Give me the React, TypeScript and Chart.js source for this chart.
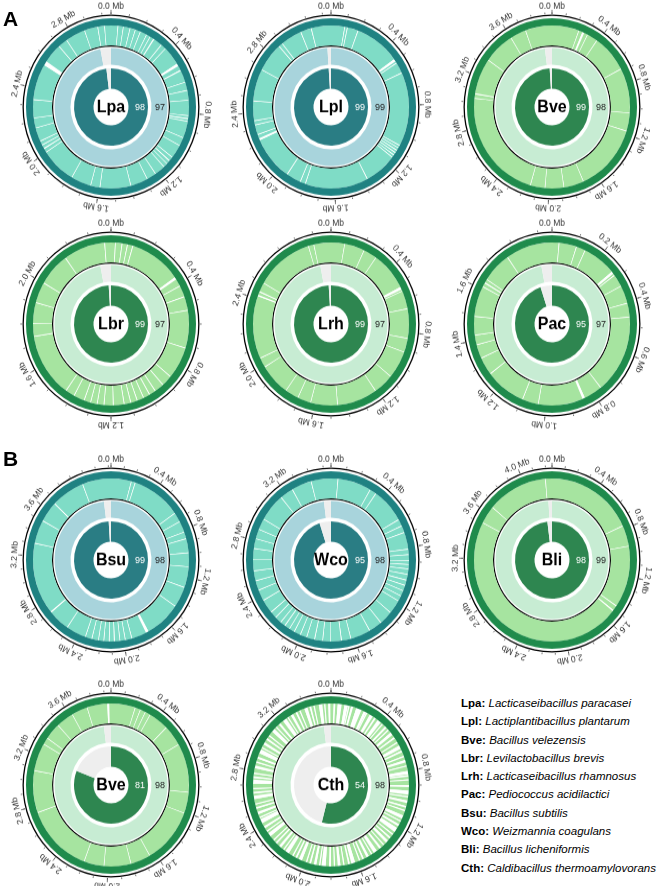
import { useEffect, useRef } from "react";
import { Chart, registerables } from "chart.js";

Chart.register(...registerables);

// ---------------- data ----------------
const genomeCodes = ["Lpa", "Lpl", "Bve", "Lbr", "Lrh", "Pac", "Bsu", "Wco", "Bli", "Bve", "Cth"];
const genomePalette = ["teal", "teal", "green", "green", "green", "green", "teal", "teal", "green", "green", "green"];
const genomeLengthsMb = [3.05, 3.25, 3.95, 2.4, 3.0, 1.95, 4.22, 3.55, 4.25, 3.95, 3.6];
const coreIdentity = [98, 99, 99, 99, 99, 95, 99, 95, 98, 81, 54];
const ringIdentity = [97, 99, 98, 97, 97, 97, 98, 98, 99, 98, 98];

const ticks04to28 = [0.0, 0.4, 0.8, 1.2, 1.6, 2.0, 2.4, 2.8];
const ticks04to36 = [0.0, 0.4, 0.8, 1.2, 1.6, 2.0, 2.4, 2.8, 3.2, 3.6];
const ticks04to20 = [0.0, 0.4, 0.8, 1.2, 1.6, 2.0];
const ticks04to24 = [0.0, 0.4, 0.8, 1.2, 1.6, 2.0, 2.4];
const ticks02to16 = [0.0, 0.2, 0.4, 0.6, 0.8, 1.0, 1.2, 1.4, 1.6];
const ticks04to32 = [0.0, 0.4, 0.8, 1.2, 1.6, 2.0, 2.4, 2.8, 3.2];
const ticks04to40 = [0.0, 0.4, 0.8, 1.2, 1.6, 2.0, 2.4, 2.8, 3.2, 3.6, 4.0];
const tickLabelsMb = [
  ticks04to28, ticks04to28, ticks04to36, ticks04to20, ticks04to24, ticks02to16,
  ticks04to36, ticks04to32, ticks04to40, ticks04to36, ticks04to32,
];
const minorTickStepMb = [0.1, 0.1, 0.1, 0.1, 0.1, 0.1, 0.1, 0.1, 0.1, 0.1, 0.1];

// gaps in the outer ring: [position Mb, width kb]
const gapsLpa = [[0.042,4],[0.076,4],[0.119,4],[0.153,4],[0.186,4],[0.229,4],[0.254,4],[0.280,6],[0.339,4],[0.373,4],[0.491,16],[0.534,6],[0.610,4],[0.661,4],[0.720,4],[0.813,4],[0.830,6],[0.847,4],[0.949,4],[1.000,4],[1.084,4],[1.110,6],[1.135,4],[1.161,4],[1.228,4],[1.288,4],[1.398,4],[1.593,4],[1.652,4],[1.779,4],[2.000,4],[2.025,6],[2.050,4],[2.076,4],[2.160,4],[2.220,4],[2.330,4],[2.550,26],[2.694,4],[2.754,4],[2.880,4],[2.965,4],[3.008,4]];
const gapsLpl = [[0.090,5],[0.108,5],[0.181,5],[0.488,16],[0.515,5],[0.587,5],[1.065,5],[1.083,5],[1.101,6],[1.119,5],[1.137,5],[1.155,5],[1.372,5],[1.797,5],[1.833,5],[1.932,5],[2.221,13],[2.257,5],[2.320,5],[2.347,5],[2.474,5],[2.681,5],[2.871,5],[2.898,5],[3.042,5],[3.115,5]];
const gapsBve = [[0.219,5],[0.252,16],[0.296,5],[0.384,5],[0.680,5],[1.031,5],[1.174,5],[1.712,5],[1.876,5],[2.030,5],[2.150,5],[3.028,5],[3.061,8],[3.346,5],[3.599,5],[3.730,5]];
const gapsLbr = [[0.020,4],[0.053,4],[0.080,4],[0.107,4],[0.367,12],[0.413,4],[0.467,4],[0.533,4],[0.713,4],[0.867,4],[0.920,4],[0.967,4],[1.000,4],[1.033,4],[1.067,4],[1.100,4],[1.133,4],[1.187,4],[1.233,4],[1.267,4],[1.300,4],[1.333,4],[1.387,4],[1.433,4],[1.740,4],[1.800,4],[1.900,4],[2.000,4],[2.160,4],[2.367,4]];
const gapsLrh = [[0.083,4],[0.208,4],[0.292,4],[0.525,16],[0.550,4],[0.658,4],[0.833,4],[0.917,4],[1.083,4],[1.208,4],[1.458,4],[1.625,4],[1.708,4],[1.792,4],[1.983,4],[2.042,4],[2.417,8],[2.442,6],[2.500,4],[2.858,4],[2.892,4]];
const gapsPac = [[0.027,3],[0.098,3],[0.135,3],[0.271,10],[0.287,3],[0.336,3],[0.406,3],[0.460,3],[0.764,3],[0.840,10],[1.029,3],[1.094,3],[1.257,3],[1.327,3],[1.381,3],[1.419,3],[1.490,3],[1.609,3],[1.625,5],[1.641,3],[1.760,3]];
const gapsBsu = [[0.175,6],[0.210,6],[0.642,6],[0.723,6],[0.817,6],[0.875,6],[0.992,6],[1.108,6],[1.283,6],[1.458,6],[1.773,24],[1.925,6],[1.983,6],[2.030,6],[2.077,8],[2.123,6],[2.170,6],[2.217,6],[2.275,6],[2.333,6],[2.508,6],[2.695,10],[3.302,6],[3.500,6],[3.675,8],[3.967,6]];
const gapsWco = [[0.049,5],[0.296,5],[0.345,5],[0.592,5],[0.641,5],[0.690,5],[0.809,5],[0.848,5],[0.887,6],[0.917,5],[0.947,5],[0.986,5],[1.026,6],[1.065,5],[1.104,5],[1.144,5],[1.183,5],[1.282,5],[1.381,5],[1.479,5],[1.627,5],[1.696,6],[1.775,5],[1.834,5],[1.893,6],[1.953,5],[2.002,5],[2.051,5],[2.091,5],[2.130,6],[2.169,5],[2.219,5],[2.268,5],[2.367,5],[2.446,5],[2.515,5],[2.584,5],[2.662,5],[2.741,5],[2.810,5],[2.879,5],[2.958,5],[3.156,5],[3.254,5],[3.402,5]];
const gapsBli = [[0.767,6],[0.944,6],[1.464,8],[1.511,10],[3.506,6],[3.660,6],[4.190,6]];
const gapsBve2 = [[0.197,5],[0.241,5],[0.285,5],[0.329,5],[0.494,5],[0.658,5],[1.042,5],[1.207,5],[1.646,5],[1.810,5],[2.030,5],[2.194,5],[2.743,5],[3.072,5],[3.292,5],[3.346,5],[3.478,5],[3.621,5],[3.752,5],[3.920,16]];
const gapsCth = [[0.02,12],[0.05,20],[0.07,9],[0.10,26],[0.13,9],[0.15,15],[0.19,30],[0.22,9],[0.25,18],[0.27,9],[0.30,24],[0.34,12],[0.37,28],[0.41,9],[0.44,15],[0.47,9],[0.50,20],[0.54,12],[0.58,9],[0.61,26],[0.65,12],[0.69,9],[0.72,18],[0.76,9],[0.80,24],[0.83,12],[0.86,9],[0.90,15],[0.94,28],[0.98,9],[1.01,18],[1.05,12],[1.08,9],[1.12,24],[1.16,9],[1.19,15],[1.22,32],[1.27,9],[1.30,12],[1.33,20],[1.37,9],[1.40,15],[1.44,26],[1.48,9],[1.51,18],[1.55,12],[1.58,9],[1.62,28],[1.66,12],[1.70,9],[1.73,20],[1.77,9],[1.80,15],[1.84,30],[1.88,9],[1.91,18],[1.95,12],[1.98,9],[2.02,24],[2.06,12],[2.09,9],[2.13,28],[2.17,9],[2.20,18],[2.24,12],[2.27,9],[2.31,26],[2.35,9],[2.38,15],[2.42,32],[2.46,9],[2.49,18],[2.53,12],[2.56,9],[2.60,24],[2.64,12],[2.67,9],[2.71,28],[2.75,12],[2.78,9],[2.82,20],[2.86,9],[2.89,15],[2.93,30],[2.97,9],[3.00,18],[3.04,12],[3.07,9],[3.11,26],[3.15,9],[3.18,15],[3.22,28],[3.26,9],[3.29,18],[3.33,12],[3.36,9],[3.40,24],[3.44,12],[3.47,9],[3.51,26],[3.55,9],[3.58,15]];
const genomeGaps = [gapsLpa, gapsLpl, gapsBve, gapsLbr, gapsLrh, gapsPac, gapsBsu, gapsWco, gapsBli, gapsBve2, gapsCth];

const legendCodes = ["Lpa", "Lpl", "Bve", "Lbr", "Lrh", "Pac", "Bsu", "Wco", "Bli", "Cth"];
const legendNames = [
  "Lacticaseibacillus paracasei",
  "Lactiplantibacillus plantarum",
  "Bacillus velezensis",
  "Levilactobacillus brevis",
  "Lacticaseibacillus rhamnosus",
  "Pediococcus acidilactici",
  "Bacillus subtilis",
  "Weizmannia coagulans",
  "Bacillus licheniformis",
  "Caldibacillus thermoamylovorans",
];

// ---------------- layout / style ----------------
const FONT = "'Liberation Sans', Arial, Helvetica, sans-serif";
const colX = [111, 331, 552];
const rowY = [107, 324, 560, 785];
const ringPlacement = [
  [0, 0], [1, 0], [2, 0],
  [0, 1], [1, 1], [2, 1],
  [0, 2], [1, 2], [2, 2],
  [0, 3], [1, 3],
];
const TEAL = { dark: "#1f8282", core: "#2a7d84", outer: "#7fdcc6", inner: "#a8d4dc" };
const GREEN = { dark: "#1f8b4c", core: "#2e8650", outer: "#a6e4a0", inner: "#c7ecd3" };
const GREY = "#eeeeee";
const CLEAR = "rgba(0,0,0,0)";
const CANVAS = 220;
const OUTER_R = 88.5;
const INNER_R = 17.5;

function buildOuterRing(len: number, gaps: number[][], light: string) {
  const sorted = [...gaps].sort((a, b) => a[0] - b[0]);
  const data: number[] = [];
  const colors: string[] = [];
  let cur = 0;
  for (const [p, kb] of sorted) {
    const s = Math.max(p, cur);
    const e = Math.min(p + kb / 1000, len);
    if (s > cur) {
      data.push(s - cur);
      colors.push(light);
    }
    if (e > s) {
      data.push(e - s);
      colors.push("#ffffff");
      cur = e;
    }
  }
  if (len > cur) {
    data.push(len - cur);
    colors.push(light);
  }
  return { data, colors };
}

function GenomeRing({ idx }: { idx: number }) {
  const ref = useRef<HTMLCanvasElement | null>(null);
  const [c, r] = ringPlacement[idx];
  const cx = colX[c];
  const cy = rowY[r];

  useEffect(() => {
    const canvas = ref.current;
    if (!canvas) return;
    const pal = genomePalette[idx] === "teal" ? TEAL : GREEN;
    const len = genomeLengthsMb[idx];
    const outer = buildOuterRing(len, genomeGaps[idx], pal.outer);
    const core = coreIdentity[idx];
    const ring = ringIdentity[idx];
    const ticks = tickLabelsMb[idx];
    const minor = minorTickStepMb[idx];
    const code = genomeCodes[idx];

    const decor = {
      id: "decor" + idx,
      afterDatasetsDraw(chart: any) {
        const arc = chart.getDatasetMeta(0).data[0];
        const { x: ox, y: oy, outerRadius: R } = arc.getProps(["x", "y", "outerRadius"], true);
        const ctx = chart.ctx;
        ctx.save();
        ctx.strokeStyle = "#555";
        ctx.lineWidth = 0.8;
        const nMinor = Math.floor(len / minor + 1e-6);
        for (let k = 0; k <= nMinor; k++) {
          const a = ((k * minor) / len) * Math.PI * 2;
          const s = Math.sin(a), co = Math.cos(a);
          ctx.beginPath();
          ctx.moveTo(ox + (R + 0.5) * s, oy - (R + 0.5) * co);
          ctx.lineTo(ox + (R + 2.2) * s, oy - (R + 2.2) * co);
          ctx.stroke();
        }
        ctx.fillStyle = "#333";
        ctx.font = `8.5px ${FONT}`;
        ctx.textAlign = "center";
        ctx.textBaseline = "middle";
        for (const t of ticks) {
          const a = (t / len) * Math.PI * 2;
          const s = Math.sin(a), co = Math.cos(a);
          ctx.beginPath();
          ctx.moveTo(ox + (R + 0.5) * s, oy - (R + 0.5) * co);
          ctx.lineTo(ox + (R + 4.5) * s, oy - (R + 4.5) * co);
          ctx.stroke();
          ctx.save();
          ctx.translate(ox + (R + 8) * s, oy - (R + 8) * co);
          ctx.rotate(a);
          ctx.fillText(`${t.toFixed(1)} Mb`, 0, 0);
          ctx.restore();
        }
        ctx.fillStyle = "#000";
        ctx.font = `bold 16px ${FONT}`;
        ctx.fillText(code, ox, oy + 0.5);
        ctx.font = `9px ${FONT}`;
        ctx.fillStyle = "#ffffff";
        ctx.fillText(String(core), ox + 29, oy + 0.5);
        ctx.fillStyle = "#222";
        ctx.fillText(String(ring), ox + 49, oy + 0.5);
        ctx.restore();
      },
    };

    const chart = new Chart(canvas, {
      type: "doughnut",
      data: {
        datasets: [
          { data: [1], backgroundColor: ["#000000"], weight: 1.3 },
          { data: [1], backgroundColor: [CLEAR], weight: 2.2 },
          { data: [1], backgroundColor: [pal.dark], weight: 7 },
          { data: outer.data, backgroundColor: outer.colors, weight: 19 },
          { data: [1], backgroundColor: ["#000000"], weight: 1.2 },
          { data: [1], backgroundColor: [CLEAR], weight: 1.3 },
          { data: [ring, 100 - ring], backgroundColor: [pal.inner, GREY], weight: 16 },
          { data: [1], backgroundColor: [CLEAR], weight: 3.5 },
          { data: [core, 100 - core], backgroundColor: [pal.core, GREY], weight: 19.5 },
        ] as any,
      },
      options: {
        responsive: false,
        animation: false,
        events: [],
        radius: OUTER_R,
        cutout: `${(INNER_R / OUTER_R) * 100}%`,
        borderWidth: 0,
        layout: { padding: 0 },
        plugins: { legend: { display: false }, tooltip: { enabled: false } },
      } as any,
      plugins: [decor],
    });
    return () => chart.destroy();
  }, [idx]);

  return (
    <canvas
      ref={ref}
      width={CANVAS}
      height={CANVAS}
      style={{
        position: "absolute",
        left: cx - CANVAS / 2,
        top: cy - CANVAS / 2,
        width: CANVAS,
        height: CANVAS,
        transform: "scaleY(1.045)",
        transformOrigin: "50% 50%",
      }}
    />
  );
}

export default function App() {
  return (
    <div
      style={{
        position: "absolute",
        left: 0,
        top: 0,
        width: 660,
        height: 886,
        background: "#ffffff",
        overflow: "hidden",
        fontFamily: FONT,
      }}
    >
      {genomeCodes.map((_, i) => (
        <GenomeRing key={i} idx={i} />
      ))}
      <div style={{ position: "absolute", left: 3, top: 8, fontSize: 21, fontWeight: "bold", lineHeight: 1 }}>A</div>
      <div style={{ position: "absolute", left: 3, top: 448, fontSize: 21, fontWeight: "bold", lineHeight: 1 }}>B</div>
      <div style={{ position: "absolute", left: 461, top: 694, fontSize: 11.5, lineHeight: "18.3px", color: "#000", whiteSpace: "nowrap" }}>
        {legendCodes.map((code, i) => (
          <div key={i}>
            <b>{code}:</b> <i>{legendNames[i]}</i>
          </div>
        ))}
      </div>
    </div>
  );
}
